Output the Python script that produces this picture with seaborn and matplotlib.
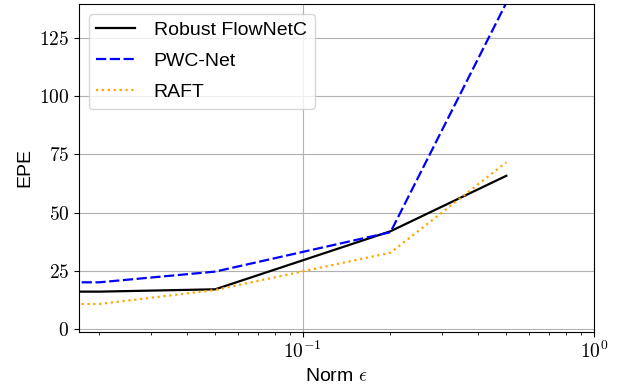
# EPE vs. perturbation norm

import numpy as np
import pandas as pd
import matplotlib
matplotlib.use("Agg")
import matplotlib.pyplot as plt
import matplotlib.ticker as mticker
import seaborn as sns

plt.rcParams['font.family'] = ['Liberation Sans', 'DejaVu Sans']
plt.rcParams['font.size'] = 14
plt.rcParams['mathtext.fontset'] = 'cm'

eps = [0.0, 0.02, 0.05, 0.2, 0.5]
robust_flownetc = [16.1, 16.1, 17.1, 42.0, 65.8]
pwc_net = [20.1, 20.1, 24.7, 41.6, 140.0]
raft = [10.7, 10.8, 16.8, 32.8, 71.6]

fig = plt.figure(figsize=(6.18, 3.87), dpi=100)
ax = fig.add_axes([0.1278, 0.1434, 0.8333, 0.8463])

sns.lineplot(x=eps, y=robust_flownetc, color='black', linestyle='-', lw=1.6,
             label='Robust FlowNetC', ax=ax)
sns.lineplot(x=eps, y=pwc_net, color='blue', linestyle=(0, (4.6, 1.6)), lw=1.6,
             label='PWC-Net', ax=ax)
sns.lineplot(x=eps, y=raft, color='orange', linestyle=':', lw=1.6,
             label='RAFT', ax=ax)

ax.set_xscale('log')
ax.set_xlim(right=1)
ax.set_ylim(-1, 139.5)
ax.set_yticks([0, 25, 50, 75, 100, 125])

ax.yaxis.set_major_formatter(mticker.FuncFormatter(lambda v, p: f'${v:.0f}$'))
ax.xaxis.set_major_formatter(
    mticker.FuncFormatter(lambda v, p: f'$10^{{{int(round(np.log10(v)))}}}$'))
ax.xaxis.set_minor_formatter(mticker.NullFormatter())

ax.grid(True)
ax.set_xlabel(r'Norm $\epsilon$')
ax.set_ylabel('EPE')
ax.legend(loc='upper left', labelspacing=0.68, handletextpad=0.95)

fig.savefig('out.png', dpi=100)
